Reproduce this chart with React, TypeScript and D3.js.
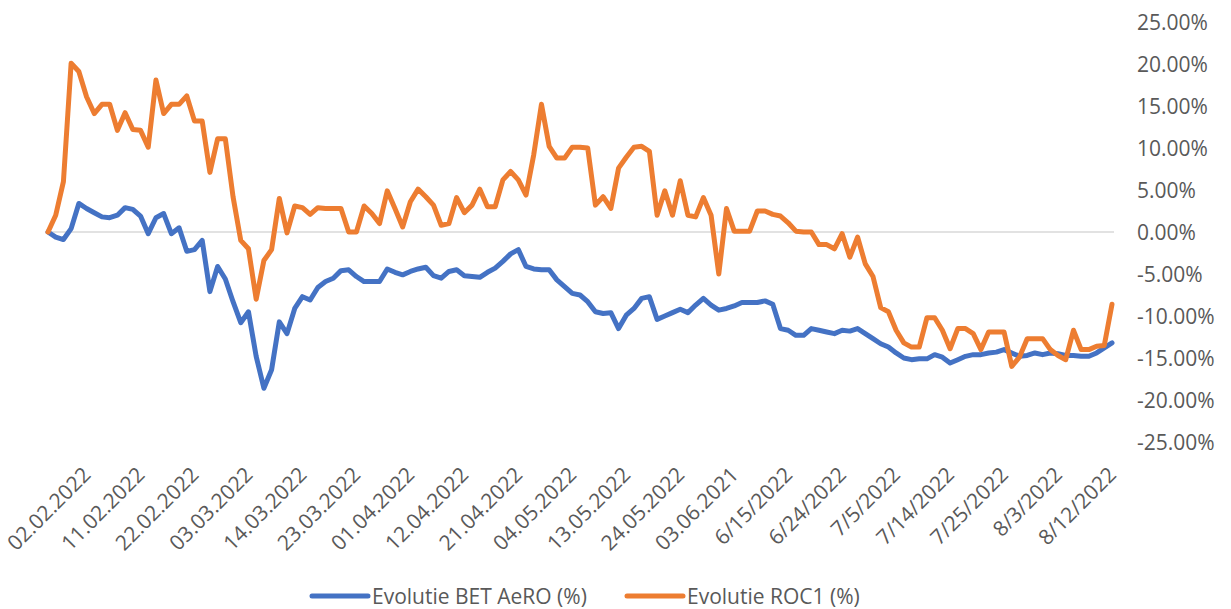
import React, { useEffect, useRef } from "react";
import * as d3 from "d3";

// Evolutie BET AeRO (%)
const betAero = [
  0, -0.6, -0.9, 0.4, 3.4, 2.8, 2.3, 1.8, 1.7, 2.0, 2.9, 2.7, 1.9, -0.2, 1.7, 2.2, -0.2, 0.5, -2.3, -2.1,
  -1.0, -7.1, -4.1, -5.6, -8.3, -10.8, -9.5, -14.8, -18.6, -16.4, -10.7, -12.1, -9.1, -7.7, -8.1, -6.6, -5.9, -5.5, -4.6, -4.5,
  -5.3, -5.9, -5.9, -5.9, -4.4, -4.8, -5.1, -4.7, -4.4, -4.2, -5.2, -5.5, -4.7, -4.5, -5.2, -5.3, -5.4, -4.8, -4.3, -3.5,
  -2.6, -2.1, -4.1, -4.4, -4.5, -4.5, -5.7, -6.5, -7.3, -7.5, -8.3, -9.5, -9.7, -9.6, -11.5, -9.9, -9.1, -7.9, -7.7, -10.4,
  -10.0, -9.6, -9.2, -9.6, -8.7, -7.9, -8.7, -9.3, -9.1, -8.8, -8.4, -8.4, -8.4, -8.2, -8.6, -11.5, -11.7, -12.3, -12.3, -11.5,
  -11.7, -11.9, -12.1, -11.7, -11.8, -11.5, -12.1, -12.7, -13.3, -13.7, -14.4, -15.0, -15.2, -15.1, -15.1, -14.6, -14.9, -15.6, -15.2, -14.8,
  -14.6, -14.6, -14.4, -14.3, -14.0, -14.4, -14.8, -14.7, -14.4, -14.6, -14.4, -14.5, -14.7, -14.7, -14.8, -14.8, -14.4, -13.8, -13.2,
];

// Evolutie ROC1 (%)
const roc1 = [
  0, 2.0, 6.0, 20.1, 19.1, 16.1, 14.1, 15.2, 15.2, 12.1, 14.2, 12.2, 12.1, 10.1, 18.1, 14.1, 15.2, 15.2, 16.2, 13.2,
  13.2, 7.1, 11.1, 11.1, 4.2, -1.0, -2.0, -8.0, -3.4, -2.1, 4.0, -0.1, 3.1, 2.9, 2.1, 2.9, 2.8, 2.8, 2.8, 0.0,
  0.0, 3.1, 2.2, 1.0, 4.9, 2.8, 0.6, 3.6, 5.1, 4.2, 3.2, 0.8, 1.0, 4.1, 2.3, 3.2, 5.1, 3.0, 3.0, 6.2,
  7.2, 6.2, 4.4, 9.2, 15.2, 10.2, 8.8, 8.8, 10.1, 10.1, 10.0, 3.2, 4.2, 2.8, 7.6, 8.9, 10.1, 10.2, 9.6, 2.0,
  4.9, 2.0, 6.1, 2.0, 1.8, 4.1, 2.0, -5.0, 2.8, 0.1, 0.1, 0.1, 2.5, 2.5, 2.1, 1.9, 1.1, 0.1, 0.0, 0.0,
  -1.5, -1.5, -2.0, -0.2, -3.0, -0.6, -3.8, -5.3, -9.0, -9.5, -11.7, -13.2, -13.7, -13.7, -10.2, -10.2, -11.7, -13.9, -11.5, -11.5,
  -12.1, -14.0, -11.9, -11.9, -11.9, -16.0, -14.9, -12.7, -12.7, -12.7, -14.0, -14.7, -15.2, -11.7, -14.0, -14.0, -13.6, -13.5, -8.6,
];

// category labels shown every 7th point
const tickLabels = [
  "02.02.2022", "11.02.2022", "22.02.2022", "03.03.2022", "14.03.2022", "23.03.2022", "01.04.2022",
  "12.04.2022", "21.04.2022", "04.05.2022", "13.05.2022", "24.05.2022", "03.06.2021", "6/15/2022",
  "6/24/2022", "7/5/2022", "7/14/2022", "7/25/2022", "8/3/2022", "8/12/2022",
];
const tickStep = 7;

const yTicks = [25, 20, 15, 10, 5, 0, -5, -10, -15, -20, -25];

const series = [
  { name: "Evolutie BET AeRO (%)", values: betAero, color: "#4472C4" },
  { name: "Evolutie ROC1 (%)", values: roc1, color: "#ED7D31" },
];

export default function App() {
  const ref = useRef<SVGSVGElement>(null);

  useEffect(() => {
    const svg = d3.select(ref.current);
    svg.selectAll("*").remove();

    const font = "'Open Sans', sans-serif";
    const textColor = "#595959";

    const x = d3.scaleLinear().domain([0, betAero.length - 1]).range([48, 1112]);
    const y = d3.scaleLinear().domain([-25, 25]).range([442, 22]);

    // zero line only
    svg.append("line")
      .attr("x1", x(0)).attr("x2", x(betAero.length - 1) + 2)
      .attr("y1", y(0)).attr("y2", y(0))
      .attr("stroke", "#d9d9d9").attr("stroke-width", 1.5);

    // y labels on the right
    svg.append("g").selectAll("text").data(yTicks).join("text")
      .attr("x", 1137)
      .attr("y", d => y(d))
      .attr("dy", "0.36em")
      .attr("font-family", font)
      .attr("font-size", 21)
      .attr("fill", textColor)
      .text(d => d.toFixed(2) + "%");

    // rotated category labels
    svg.append("g").selectAll("text").data(tickLabels).join("text")
      .attr("transform", (d, i) => `translate(${x(i * tickStep) + 44},476) rotate(-45)`)
      .attr("text-anchor", "end")
      .attr("font-family", font)
      .attr("font-size", 21)
      .attr("fill", textColor)
      .text(d => d);

    const lineGen = d3.line<number>()
      .x((d, i) => x(i))
      .y(d => y(d));

    svg.append("g").selectAll("path").data(series).join("path")
      .attr("d", d => lineGen(d.values))
      .attr("fill", "none")
      .attr("stroke", d => d.color)
      .attr("stroke-width", 5)
      .attr("stroke-linejoin", "round")
      .attr("stroke-linecap", "round");

    // legend
    const legendX = [312, 627];
    const lg = svg.append("g").selectAll("g").data(series).join("g")
      .attr("transform", (d, i) => `translate(${legendX[i]},596)`);
    lg.append("line")
      .attr("x1", 0).attr("x2", 56).attr("y1", 0).attr("y2", 0)
      .attr("stroke", d => d.color).attr("stroke-width", 5)
      .attr("stroke-linecap", "round");
    lg.append("text")
      .attr("x", 60).attr("dy", "0.36em")
      .attr("font-family", font)
      .attr("font-size", 21)
      .attr("fill", textColor)
      .text(d => d.name);
  }, []);

  return (
    <svg
      ref={ref}
      width={1231}
      height={609}
      style={{ position: "absolute", left: 0, top: 0, background: "#fff" }}
    />
  );
}
